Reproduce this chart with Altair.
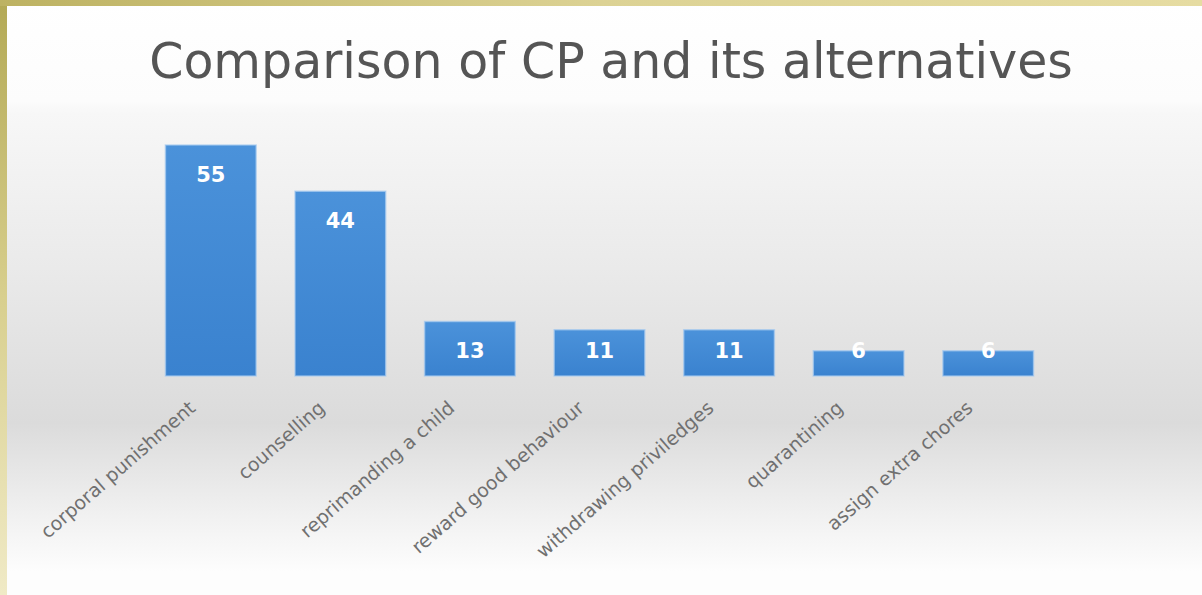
import altair as alt
import pandas as pd

categories = [
    "corporal punishment",
    "counselling",
    "reprimanding a child",
    "reward good behaviour",
    "withdrawing priviledges",
    "quarantining",
    "assign extra chores",
]
values = [55, 44, 13, 11, 11, 6, 6]
title_text = "Comparison of CP and its alternatives"

df = pd.DataFrame({"method": categories, "count": values})
one = pd.DataFrame({"k": [0]})

W, H = 907, 252
PAD_L, PAD_T, PAD_R, PAD_B = 146, 124, 149, 219
TOTAL_W, TOTAL_H = W + PAD_L + PAD_R, H + PAD_T + PAD_B

bg_grad = alt.Gradient(
    gradient="linear", x1=0, x2=0, y1=0, y2=1,
    stops=[
        alt.GradientStop(color="#ffffff", offset=0.0),
        alt.GradientStop(color="#fcfcfc", offset=0.17),
        alt.GradientStop(color="#f7f7f7", offset=0.19),
        alt.GradientStop(color="#eaeaea", offset=0.45),
        alt.GradientStop(color="#dbdbdb", offset=0.71),
        alt.GradientStop(color="#f0f0f0", offset=0.86),
        alt.GradientStop(color="#fdfdfd", offset=0.96),
    ],
)
left_gold = alt.Gradient(
    gradient="linear", x1=0, x2=0, y1=0, y2=1,
    stops=[
        alt.GradientStop(color="#b3a955", offset=0.0),
        alt.GradientStop(color="#d8cf8e", offset=0.5),
        alt.GradientStop(color="#f0eac6", offset=1.0),
    ],
)
top_gold = alt.Gradient(
    gradient="linear", x1=0, x2=1, y1=0, y2=0,
    stops=[
        alt.GradientStop(color="#bdb262", offset=0.0),
        alt.GradientStop(color="#dcd294", offset=0.5),
        alt.GradientStop(color="#e6dca2", offset=1.0),
    ],
)
bar_grad = alt.Gradient(
    gradient="linear", x1=0, x2=0, y1=0, y2=1,
    stops=[
        alt.GradientStop(color="#4b92da", offset=0.0),
        alt.GradientStop(color="#3a82cf", offset=1.0),
    ],
)

background = alt.Chart(one).mark_rect(fill=bg_grad).encode(
    x=alt.value(-PAD_L), x2=alt.value(TOTAL_W - PAD_L),
    y=alt.value(-PAD_T), y2=alt.value(TOTAL_H - PAD_T),
)
left_strip = alt.Chart(one).mark_rect(fill=left_gold).encode(
    x=alt.value(-PAD_L), x2=alt.value(-PAD_L + 7),
    y=alt.value(-PAD_T), y2=alt.value(TOTAL_H - PAD_T),
)
top_strip = alt.Chart(one).mark_rect(fill=top_gold).encode(
    x=alt.value(-PAD_L), x2=alt.value(TOTAL_W - PAD_L),
    y=alt.value(-PAD_T), y2=alt.value(-PAD_T + 6),
)

x_enc = alt.X(
    "method:N", sort=categories,
    scale=alt.Scale(paddingInner=0.3, paddingOuter=0.15),
    axis=alt.Axis(
        title=None, labelAngle=319, labelAlign="right", labelBaseline="top",
        labelPadding=22, labelOffset=-24, labelFont="DejaVu Sans", labelFontSize=19,
        labelColor="#707070", domain=False, ticks=False, grid=False, zindex=1,
        labelOverlap=False, labelLimit=400,
    ),
)
y_enc = alt.Y("count:Q", scale=alt.Scale(domain=[0, 60]), axis=None)

bars = alt.Chart(df).mark_bar(
    fill=bar_grad, stroke="#a6cbef", strokeWidth=1.5, strokeOpacity=0.7
).encode(x=x_enc, y=y_enc)

labels = alt.Chart(df).transform_calculate(
    label_y="datum.count >= 12 ? datum.count - 7.4 : (datum.count >= 9 ? datum.count - 5.4 : datum.count - 0.3)"
).mark_text(
    font="DejaVu Sans", fontWeight="bold", fontSize=21, color="#ffffff",
    align="center", baseline="middle",
).encode(
    x=alt.X("method:N", sort=categories),
    y=alt.Y("label_y:Q"),
    text=alt.Text("count:Q"),
)

title = alt.Chart(one).mark_text(
    font="DejaVu Sans", fontSize=49, color="#555555", align="center", baseline="alphabetic"
).encode(
    x=alt.value(611 - PAD_L), y=alt.value(78 - PAD_T), text=alt.value(title_text)
)

chart = alt.layer(background, left_strip, top_strip, bars, labels, title).properties(
    width=W, height=H,
    autosize=alt.AutoSizeParams(type="none"),
    padding={"left": PAD_L, "top": PAD_T, "right": PAD_R, "bottom": PAD_B},
).configure_view(stroke=None).configure(background="#ffffff")

chart.save("out.html", embed_options={"renderer": "svg", "actions": False})
